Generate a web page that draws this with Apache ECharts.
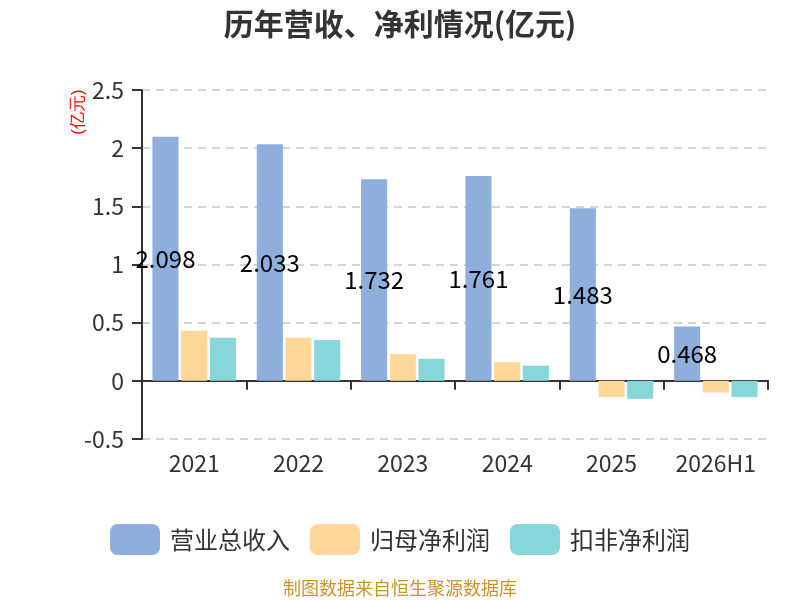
<!DOCTYPE html>
<html>
<head>
<meta charset="utf-8">
<script src="https://cdn.jsdelivr.net/npm/echarts@6/dist/echarts.min.js"></script>
<style>
  html, body { margin: 0; padding: 0; background: #fff; }
  #main { width: 800px; height: 600px; }
</style>
</head>
<body>
<div id="main"></div>
<script>
// 年份
var years = ['2021', '2022', '2023', '2024', '2025', '2026H1'];
// 营业总收入(亿元)
var revenue = [2.098, 2.033, 1.732, 1.761, 1.483, 0.468];
// 归母净利润
var netProfit = [0.43, 0.37, 0.23, 0.16, -0.14, -0.10];
// 扣非净利润
var deductedProfit = [0.37, 0.35, 0.19, 0.13, -0.155, -0.14];

var chart = echarts.init(document.getElementById('main'));

var option = {
  backgroundColor: '#ffffff',
  color: ['#8eaedb', '#ffd899', '#87d6d9'],
  textStyle: { fontFamily: '"Noto Sans CJK SC", "Noto Sans", sans-serif' },
  title: [{
    text: '历年营收、净利情况(亿元)',
    left: 'center',
    top: 4,
    textStyle: { fontSize: 30, fontWeight: 'bold', color: '#333' }
  }, {
    text: '制图数据来自恒生聚源数据库',
    left: 'center',
    top: 574,
    textStyle: { fontSize: 18, fontWeight: 'normal', color: '#c8952b' }
  }],
  legend: {
    top: 519,
    left: 'center',
    icon: 'roundRect',
    itemWidth: 50,
    itemHeight: 31,
    itemGap: 20,
    textStyle: { fontSize: 24, color: '#333', padding: [0, 0, 0, 5] },
    data: ['营业总收入', '归母净利润', '扣非净利润']
  },
  grid: { left: 142, right: 32, top: 90, bottom: 161 },
  graphic: [{
    type: 'text',
    x: 78,
    y: 112,
    rotation: Math.PI / 2,
    style: {
      text: '(亿元)',
      fill: '#ff0000',
      fontSize: 17,
      textAlign: 'center',
      textVerticalAlign: 'middle'
    }
  }],
  xAxis: [{
    type: 'category',
    data: years,
    position: 'bottom',
    axisLine: { show: false, onZero: false },
    axisTick: { show: false },
    axisLabel: { fontSize: 23, color: '#333', margin: 13, interval: 0 }
  }, {
    type: 'category',
    data: years,
    position: 'bottom',
    axisLine: { onZero: true, lineStyle: { color: '#333', width: 2 } },
    axisTick: { show: true, length: 9, interval: 0, lineStyle: { color: '#333', width: 2 } },
    axisLabel: { show: false }
  }],
  yAxis: {
    type: 'value',
    min: -0.5,
    max: 2.5,
    interval: 0.5,
    axisLine: { show: true, lineStyle: { color: '#333', width: 2 } },
    axisTick: { show: true, length: 10, lineStyle: { color: '#333', width: 2 } },
    axisLabel: { fontSize: 23, color: '#333', margin: 18 },
    splitLine: { lineStyle: { type: [8, 6], color: '#c8c8c8', width: 1.5 } }
  },
  series: [{
    name: '营业总收入',
    type: 'bar',
    data: revenue,
    barWidth: '25%',
    barGap: '10%',
    label: {
      show: true,
      position: 'inside',
      fontSize: 24,
      color: '#000'
    }
  }, {
    name: '归母净利润',
    type: 'bar',
    data: netProfit,
    barWidth: '25%',
    barGap: '10%'
  }, {
    name: '扣非净利润',
    type: 'bar',
    data: deductedProfit,
    barWidth: '25%',
    barGap: '10%'
  }]
};

chart.setOption(option);
</script>
</body>
</html>
